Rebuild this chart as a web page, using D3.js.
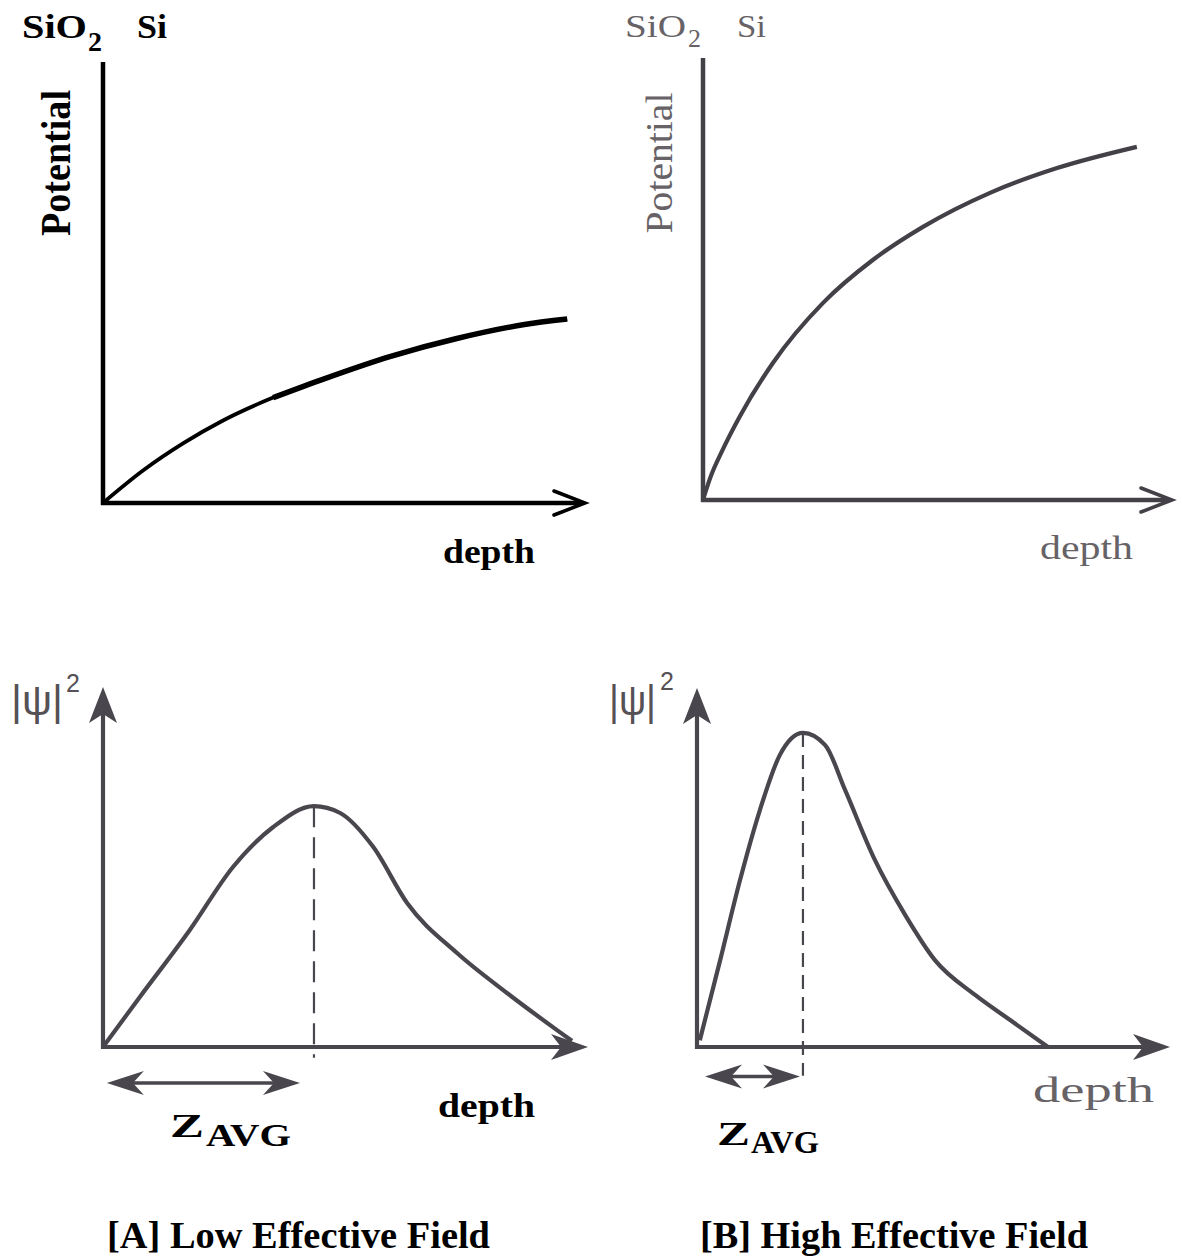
<!DOCTYPE html>
<html><head><meta charset="utf-8">
<script src="https://cdn.jsdelivr.net/npm/d3@7"></script>
<style>html,body{margin:0;padding:0;background:#fff;} svg{display:block;}</style>
</head><body>
<svg id="fig" width="1182" height="1259"></svg>
<script>
// Surface potential vs depth (depth %, potential %)
const potentialLow = [[0,0],[8.3,7.35],[16.6,13.5],[24.9,18.7],[35.3,23.9],[45.6,28.05],[59.5,33.2],[73.4,37.3],[87.1,40.4],[96.3,41.7]];
const potentialHigh = [[0,0],[1.5,4.9],[4.26,11.5],[7.9,19.0],[14.9,31.0],[25.6,44.6],[36.2,54.3],[46.9,61.8],[61.2,69.5],[75.5,75.1],[92.5,79.9]];
// Carrier density |psi|^2 vs depth (depth %, density %)
const densityLow = [[0,0],[7.6,13.9],[17.9,32.5],[26.8,50.0],[35.1,61.1],[43.5,66.9],[48.9,65.0],[55.7,55.6],[62.7,40.0],[73.0,26.1],[83.3,15.0],[93.6,4.7],[96.7,1.7]];
const densityHigh = [[0.6,1.9],[4.9,24.2],[9.1,46.5],[13.3,66.0],[17.5,81.3],[22.4,87.5],[27.1,84.1],[31.3,71.6],[37.6,52.1],[44.0,36.8],[50.3,24.2],[58.8,14.5],[66.2,7.5],[74.2,0]];
// Average inversion-layer depth (peak position) for each case
const zAvgDepth = [43.5, 22.4];
const zAvgPeak = [66.9, 87.5];
const panelTitles = ["[A] Low Effective Field", "[B] High Effective Field"];
const layerLabels = ["SiO", "2", "Si"];
const axisLabels = ["Potential", "depth", "|ψ|", "2", "Z", "AVG"];

const svg = d3.select("#fig");
const serif = "'Liberation Serif', 'DejaVu Serif', serif";
const sans = "'Liberation Sans', Arial, sans-serif";

function frame(x0, x1, y0, y1) {
  return {
    x: d3.scaleLinear().domain([0, 100]).range([x0, x1]),
    y: d3.scaleLinear().domain([0, 100]).range([y0, y1])
  };
}

const line = (s) => d3.line().x(d => s.x(d[0])).y(d => s.y(d[1])).curve(d3.curveMonotoneX);

// Filled barbed arrowhead pointing along (dx,dy) with tip at (tx,ty)
function arrowHead(g, tx, ty, dx, dy, L, W, N, color) {
  const nx = -dy, ny = dx;
  const p = [
    [tx, ty],
    [tx - L * dx + W * nx, ty - L * dy + W * ny],
    [tx - N * dx, ty - N * dy],
    [tx - L * dx - W * nx, ty - L * dy - W * ny]
  ];
  g.append("path").attr("d", "M" + p.map(q => q.join(",")).join("L") + "Z").attr("fill", color);
}

// Open chevron arrowhead
function chevron(g, tx, ty, L, W, color, sw) {
  g.append("path")
    .attr("d", `M${tx - L},${ty - W}L${tx},${ty}L${tx - L},${ty + W}`)
    .attr("fill", "none").attr("stroke", color).attr("stroke-width", sw)
    .attr("stroke-linejoin", "miter").attr("stroke-linecap", "round");
}

function text(g, str, x, y, o) {
  const t = g.append("text").attr("x", x).attr("y", y).text(str)
    .attr("font-family", o.family || serif)
    .attr("font-size", o.size)
    .attr("font-weight", o.weight || "normal")
    .attr("fill", o.fill || "#000");
  if (o.len) t.attr("textLength", o.len).attr("lengthAdjust", "spacingAndGlyphs");
  if (o.rotate) t.attr("transform", `rotate(-90,${x},${y})`).attr("text-anchor", "middle");
  if (o.anchor) t.attr("text-anchor", o.anchor);
  return t;
}

// ---------- Potential panels ----------
function potentialPanel(data, s, st) {
  const g = svg.append("g");
  g.append("line").attr("x1", s.x(0)).attr("x2", s.x(0)).attr("y1", s.y(0) + 2).attr("y2", s.y(100))
    .attr("stroke", st.axis).attr("stroke-width", st.aw);
  g.append("line").attr("x1", s.x(0) - 2).attr("x2", s.x(100) - 3).attr("y1", s.y(0)).attr("y2", s.y(0))
    .attr("stroke", st.axis).attr("stroke-width", st.aw);
  chevron(g, s.x(100), s.y(0), 31, 12, st.axis, 3.5);
  g.append("path").attr("d", line(s)(data)).attr("fill", "none")
    .attr("stroke", st.curve).attr("stroke-width", st.cw).attr("stroke-linecap", "butt");
  // the outer part of the curve is drawn with a heavier pen
  if (st.heavyFrom !== undefined) {
    g.append("path").attr("d", line(s)(data.filter(d => d[0] >= st.heavyFrom))).attr("fill", "none")
      .attr("stroke", st.curve).attr("stroke-width", st.hw).attr("stroke-linecap", "butt");
  }
  return g;
}

const sTA = frame(103, 585, 503, 62);
const sTB = frame(703, 1172, 500, 58);
const gTA = potentialPanel(potentialLow, sTA, {axis: "#000", aw: 4.5, curve: "#000", cw: 3.8, heavyFrom: 35.3, hw: 5.5});
const gTB = potentialPanel(potentialHigh, sTB, {axis: "#444047", aw: 4.5, curve: "#444047", cw: 4.2});

// labels, panel A (bold, black)
text(gTA, layerLabels[0], 22, 38, {size: 33, weight: "bold", len: 65});
text(gTA, layerLabels[1], 88, 51, {size: 28, weight: "bold"});
text(gTA, layerLabels[2], 137, 38, {size: 33, weight: "bold", len: 30});
text(gTA, axisLabels[0], 70, 163, {size: 43, weight: "bold", rotate: true, len: 146});
text(gTA, axisLabels[1], 443, 563, {size: 33, weight: "bold", len: 92});
// labels, panel B (regular, grey)
const greyT = "#666266";
text(gTB, layerLabels[0], 625, 37, {size: 32, fill: greyT, len: 61});
text(gTB, layerLabels[1], 688, 47, {size: 26, fill: greyT});
text(gTB, layerLabels[2], 737, 37, {size: 32, fill: greyT, len: 29});
text(gTB, axisLabels[0], 672, 163, {size: 38, fill: greyT, rotate: true, len: 141});
text(gTB, axisLabels[1], 1040, 559, {size: 33, fill: greyT, len: 93});

// ---------- Density panels ----------
function densityPanel(data, s, st, i) {
  const g = svg.append("g");
  const col = "#4a464d";
  g.append("line").attr("x1", s.x(0)).attr("x2", s.x(0)).attr("y1", s.y(0) + 2).attr("y2", s.y(100) + 26)
    .attr("stroke", col).attr("stroke-width", 4.2);
  arrowHead(g, s.x(0), s.y(100), 0, -1, 36, 14, 27, col);
  g.append("line").attr("x1", s.x(0) - 2).attr("x2", s.x(100) - 26).attr("y1", s.y(0)).attr("y2", s.y(0))
    .attr("stroke", col).attr("stroke-width", 4.2);
  arrowHead(g, s.x(100), s.y(0), 1, 0, 37, 13, 27, col);
  g.append("path").attr("d", line(s)(data)).attr("fill", "none")
    .attr("stroke", col).attr("stroke-width", 4.2);
  // dashed marker at the peak
  g.append("line").attr("x1", s.x(zAvgDepth[i])).attr("x2", s.x(zAvgDepth[i]))
    .attr("y1", s.y(zAvgPeak[i])).attr("y2", s.y(st.dashEnd))
    .attr("stroke", col).attr("stroke-width", 2.2).attr("stroke-dasharray", st.dash);
  // double-headed z_avg arrow
  const ay = s.y(st.arrowY), ax0 = s.x(st.arrowStart), ax1 = s.x(zAvgDepth[i]) - st.arrowGap;
  g.append("line").attr("x1", ax0 + 20).attr("x2", ax1 - 20).attr("y1", ay).attr("y2", ay)
    .attr("stroke", col).attr("stroke-width", 3.5);
  arrowHead(g, ax0, ay, -1, 0, 37, 12, 26, col);
  arrowHead(g, ax1, ay, 1, 0, 37, 12, 26, col);
  return g;
}

const sBA = frame(103, 588, 1047, 687);
const sBB = frame(697, 1170, 1047, 688);
const gBA = densityPanel(densityLow, sBA, {dashEnd: -3, dash: "21,10", arrowY: -10, arrowStart: 0.8, arrowGap: 14}, 0);
const gBB = densityPanel(densityHigh, sBB, {dashEnd: -8, dash: "14,8", arrowY: -8.2, arrowStart: 1.7, arrowGap: 3}, 1);

const greyPsi = "#555155";
text(gBA, axisLabels[2], 11, 715, {size: 42, family: sans, fill: greyPsi, len: 52});
text(gBA, axisLabels[3], 66, 692, {size: 25, family: sans, fill: greyPsi});
text(gBB, axisLabels[2], 609, 715, {size: 42, family: sans, fill: greyPsi, len: 47});
text(gBB, axisLabels[3], 660, 690, {size: 25, family: sans, fill: greyPsi});

text(gBA, axisLabels[1], 438, 1117, {size: 34, weight: "bold", len: 97});
text(gBB, axisLabels[1], 1033, 1102, {size: 36, fill: greyT, len: 121});

text(gBA, axisLabels[4], 170, 1137, {size: 33, weight: "bold", len: 34});
text(gBA, axisLabels[5], 206, 1146, {size: 32, weight: "bold", len: 85});
text(gBB, axisLabels[4], 717, 1145, {size: 33, weight: "bold", len: 33});
text(gBB, axisLabels[5], 751, 1153, {size: 32, weight: "bold", len: 68});

// captions
text(svg, panelTitles[0], 107, 1248, {size: 38, weight: "bold", len: 383});
text(svg, panelTitles[1], 700, 1248, {size: 38, weight: "bold", len: 388});
</script>
</body></html>
